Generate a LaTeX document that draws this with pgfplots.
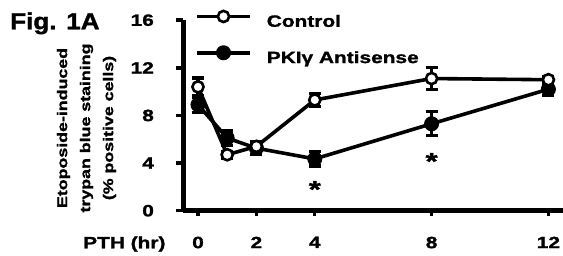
\documentclass[border=0pt]{standalone}
\usepackage{fontspec}
\setmainfont{Liberation Sans}[FakeStretch=1.28, BoldFeatures={FakeBold=1.5}]
\newfontfamily\figfont{Liberation Sans}[FakeStretch=1.12, BoldFeatures={FakeBold=1.5}]
\newfontfamily\ylabfont{Liberation Sans}[FakeStretch=1.27, BoldFeatures={FakeBold=1.5}]
\usepackage{pgfplots}
\pgfplotsset{compat=1.18}
\begin{document}
\begin{tikzpicture}
\begin{axis}[
  scale only axis, width=379.6pt, height=190.5pt,
  xmin=-0.5, xmax=12.5, ymin=0, ymax=16,
  axis x line*=bottom, axis y line*=left,
  axis line style={line width=4.5pt, -},
  xtick={0,2,4,8,12}, ytick={0,4,8,12,16},
  minor tick num=0,
  tick align=outside, major tick length=7.5pt,
  xtick style={/pgfplots/major tick length=5.5pt},
  tick style={line width=3.4pt, black},
  /pgf/number format/assume math mode=true,
  tick label style={font=\fontsize{16.3}{19}\selectfont\bfseries},
  yticklabel style={xshift=-18.5pt},
  xticklabel style={yshift=-15pt},
  clip=false,
  legend style={draw=none, fill=none, at={(axis description cs:0.0306,1.05)}, anchor=north west,
    row sep=16pt, column sep=15pt, inner sep=0pt,
    nodes={inner sep=0pt, text height=12pt, text depth=3pt, font=\fontsize{16.3}{19}\selectfont\bfseries}},
  legend cell align=left,
  legend image code/.code={\draw[mark repeat=2,mark phase=2,#1] plot coordinates {(0pt,5.8pt) (26.5pt,5.8pt) (53pt,5.8pt)};},
]
% PKI gamma antisense (filled) drawn first
\addplot[forget plot, black, line width=3.6pt, mark=*, mark size=7pt,
  mark options={solid, fill=black, line width=1pt},
  error bars/.cd, y dir=both, y explicit, error mark=-,
  error bar style={line width=3.2pt, black},
  error mark options={line width=3.2pt, mark size=6pt, black, rotate=90}]
  coordinates {(0,8.9) +- (0,0.65) (1,6.1) +- (0,0.6) (2,5.25) +- (0,0.55) (4,4.35) +- (0,0.6) (8,7.3) +- (0,1.0) (12,10.2) +- (0,0.5)};
% Control (open)
\addplot[forget plot, black, line width=3.6pt, mark=*, mark size=5.6pt,
  mark options={solid, fill=white, line width=2.6pt},
  error bars/.cd, y dir=both, y explicit, error mark=-,
  error bar style={line width=3.2pt, black},
  error mark options={line width=3.2pt, mark size=6pt, black, rotate=90}]
  coordinates {(0,10.4) +- (0,0.75) (1,4.7) +- (0,0.3) (2,5.4) +- (0,0.3) (4,9.3) +- (0,0.55) (8,11.1) +- (0,0.95) (12,11.0) +- (0,0.3)};
% asterisks
\addplot[forget plot, draw=none, mark=none,
  nodes near coords={\fontsize{24}{24}\selectfont\bfseries *},
  nodes near coords align=center]
  coordinates {(4,1.8) (8,4.15)};
\addlegendimage{black, line width=3.6pt, mark=*, mark size=5.6pt, mark options={solid, fill=white, line width=2.6pt}}
\addlegendentry{Control}
\addlegendimage{black, line width=3.6pt, mark=*, mark size=7pt, mark options={solid, fill=black, line width=1pt}}
\addlegendentry{PKIγ Antisense}
\end{axis}
\node[rotate=90, align=center, inner sep=0pt, font=\ylabfont\fontsize{14}{23}\selectfont\bfseries] at (-96.9pt,82.7pt) {Etoposide-induced\\trypan blue staining\\(\% positive cells)};
\node[anchor=base west, inner sep=0pt, font=\figfont\fontsize{23.3}{28}\selectfont\bfseries] at (-173.4pt,181.4pt) {Fig. 1A};
\node[anchor=base west, inner sep=0pt, font=\fontsize{16.3}{19}\selectfont\bfseries] at (-100.4pt,-37.6pt) {PTH (hr)};
\pgfresetboundingbox
\path[use as bounding box] (-183.4pt,-45.3pt) rectangle (379.6pt,210.7pt);
\end{tikzpicture}
\end{document}
